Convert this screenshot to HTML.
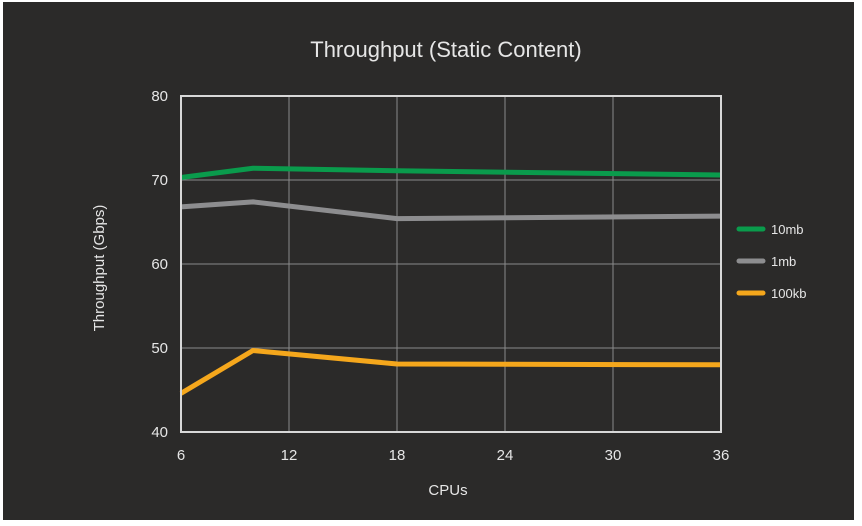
<!DOCTYPE html>
<html><head><meta charset="utf-8"><style>
html,body{margin:0;padding:0;background:#fff;width:862px;height:526px;overflow:hidden}
svg{display:block}
text{font-family:"Liberation Sans",sans-serif;fill:#e6e6e6}
</style></head><body>
<svg width="862" height="526">
<rect x="3" y="2" width="851" height="518" fill="#2b2a29"/>
<text x="446" y="57" text-anchor="middle" font-size="22" fill="#fff">Throughput (Static Content)</text>
<g id="grid"></g><g id="series"></g><g id="axes"></g><g id="legend"></g>
<text x="448" y="495" text-anchor="middle" font-size="15">CPUs</text>
<text transform="translate(104,268) rotate(-90)" text-anchor="middle" font-size="15">Throughput (Gbps)</text>
</svg>
<script>
const xTicks=[6,12,18,24,30,36];
const yTicks=[40,50,60,70,80];
const cpus=[6,10,18,36];
const seriesNames=["10mb","1mb","100kb"];
const s10mb=[70.3,71.4,71.1,70.6];
const s1mb=[66.8,67.4,65.4,65.7];
const s100kb=[44.6,49.7,48.1,48.0];
const colors=["#0a9b4c","#8d8d8f","#f5a71c"];
const NS="http://www.w3.org/2000/svg";
const L=181,R=721,T=96,B=432;
const xs=v=>L+(v-6)/30*(R-L);
const ys=v=>B-(v-40)/40*(B-T);
function mk(tag,attrs,parent){const e=document.createElementNS(NS,tag);for(const k in attrs)e.setAttribute(k,attrs[k]);document.getElementById(parent).appendChild(e);return e;}
xTicks.forEach(t=>{
 const l=mk("line",{x1:xs(t),x2:xs(t),y1:T,y2:B,stroke:"#8a8a8a","stroke-width":1},"grid");
 
 
 const tx=mk("text",{x:xs(t),y:B+28,"text-anchor":"middle","font-size":15},"axes");tx.textContent=t;
 
 
});
yTicks.forEach(t=>{
 const l=mk("line",{x1:L,x2:R,y1:ys(t),y2:ys(t),stroke:"#8a8a8a","stroke-width":1},"grid");
 
 
 const tx=mk("text",{x:L-13,y:ys(t)+5,"text-anchor":"end","font-size":15},"axes");tx.textContent=t;
 
 
});
const fr=mk("rect",{x:L,y:T,width:R-L,height:B-T,fill:"none",stroke:"#d8d8d8","stroke-width":2},"axes");


[s10mb,s1mb,s100kb].forEach((d,i)=>{
 const p=mk("polyline",{points:d.map((v,j)=>xs(cpus[j])+","+ys(v)).join(" "),fill:"none",stroke:colors[i],"stroke-width":5,"stroke-linejoin":"round"},"series");
 
 
 const ly=229+i*32;
 const ll=mk("line",{x1:739,x2:763,y1:ly,y2:ly,stroke:colors[i],"stroke-width":5,"stroke-linecap":"round"},"legend");
 
 
 const lt=mk("text",{x:771,y:ly+5,"font-size":13},"legend");lt.textContent=seriesNames[i];
 
 
});
</script>
</body></html>
